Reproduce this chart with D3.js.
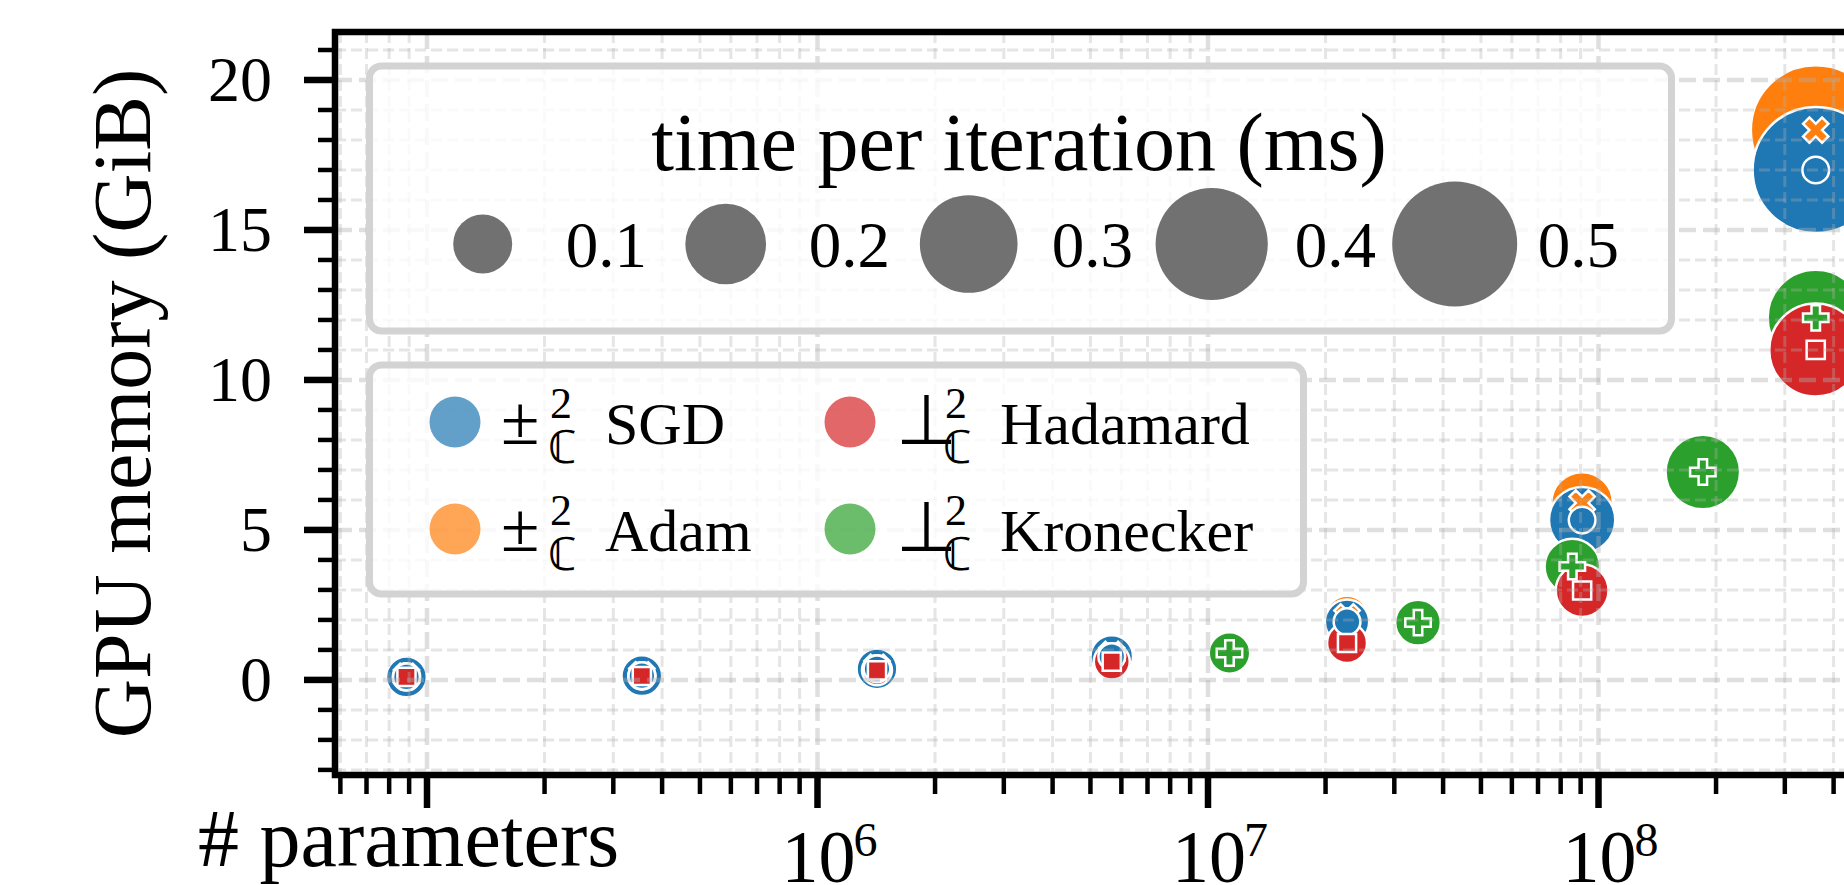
<!DOCTYPE html>
<html>
<head>
<meta charset="utf-8">
<script src="https://cdn.jsdelivr.net/npm/d3@7"></script>
<style>
  body { margin: 0; background: #fff; }
  text { font-family: "Liberation Serif", "Times New Roman", serif; fill: #000; }
</style>
</head>
<body>
<div id="chart"></div>
<script>
//Data: params, GPU memory (GiB), time per iteration (ms)
var sgdParams = [8.86e4, 3.55e5, 1.42e6, 5.67e6, 2.27e7, 9.08e7, 3.6e8];
var sgdMemory = [0.10, 0.14, 0.37, 0.78, 1.94, 5.33, 17.0];
var sgdTime = [0.04, 0.04, 0.04, 0.045, 0.05, 0.13, 0.51];

var adamParams = [8.86e4, 3.55e5, 1.42e6, 5.67e6, 2.27e7, 9.08e7, 3.6e8];
var adamMemory = [0.12, 0.17, 0.42, 0.85, 2.1, 5.9, 18.33];
var adamTime = [0.035, 0.035, 0.035, 0.04, 0.045, 0.11, 0.54];

var hadamardParams = [8.86e4, 3.55e5, 1.42e6, 5.67e6, 2.27e7, 9.08e7, 3.6e8];
var hadamardMemory = [0.10, 0.13, 0.32, 0.61, 1.23, 2.98, 11.0];
var hadamardTime = [0.01, 0.01, 0.015, 0.028, 0.038, 0.077, 0.27];

var kroneckerParams = [1.135e7, 3.45e7, 8.57e7, 1.85e8, 3.6e8];
var kroneckerMemory = [0.9, 1.91, 3.78, 6.93, 12.07];
var kroneckerTime = [0.042, 0.054, 0.087, 0.168, 0.29];

var xTickValues = [1e6, 1e7, 1e8];
var xTickExps = ["6", "7", "8"];
var yTickValues = [0, 5, 10, 15, 20];
var sizeLegendValues = [0.1, 0.2, 0.3, 0.4, 0.5];

var W = 1844, H = 885;
var left = 335, top_ = 32, bottom = 775, right = 1844;

var series = [
	{key: "adam", sym: "±", name: "Adam", color: "#ff7f0e", marker: "x", params: adamParams, mem: adamMemory, time: adamTime},
	{key: "sgd", sym: "±", name: "SGD", color: "#1f77b4", marker: "o", params: sgdParams, mem: sgdMemory, time: sgdTime},
	{key: "kronecker", sym: "⊥", name: "Kronecker", color: "#2ca02c", marker: "p", params: kroneckerParams, mem: kroneckerMemory, time: kroneckerTime},
	{key: "hadamard", sym: "⊥", name: "Hadamard", color: "#d62728", marker: "s", params: hadamardParams, mem: hadamardMemory, time: hadamardTime}
];
var byKey = {};
series.forEach(function (s) { byKey[s.key] = s; });

var x = d3.scaleLog().domain([1e5, 1e8]).range([427, 1598.5]);
var y = d3.scaleLinear().domain([-3.17, 21.6]).range([bottom, top_]);
//squared bubble diameter grows linearly with time
var diam2 = d3.scaleLinear().domain([0.1, 0.5]).range([3481, 15625]);
function radius(t) { return Math.sqrt(diam2(t)) / 2; }

var svg = d3.select("#chart").append("svg")
	.attr("width", W)
	.attr("height", H);

svg.append("clipPath").attr("id", "plotclip")
	.append("rect").attr("x", left).attr("y", top_).attr("width", right - left).attr("height", bottom - top_);

var plot = svg.append("g").attr("clip-path", "url(#plotclip)");

//Bubbles
series.forEach(function (s) {
	plot.selectAll("circle." + s.key)
		.data(s.params)
		.enter()
		.append("circle")
		.attr("class", s.key)
		.attr("cx", function (d) { return x(d); })
		.attr("cy", function (d, i) { return y(s.mem[i]); })
		.attr("r", function (d, i) { return radius(s.time[i]); })
		.attr("fill", s.color)
		.attr("stroke", "#fff")
		.attr("stroke-width", 2.5);
});

//Markers
var symbolFor = {
	o: d3.symbol().type(d3.symbolCircle).size(560),
	s: d3.symbol().type(d3.symbolSquare).size(330),
	p: d3.symbol().type(d3.symbolCross).size(360),
	x: d3.symbol().type(d3.symbolCross).size(400)
};
series.forEach(function (s) {
	plot.selectAll("path.m" + s.key)
		.data(s.params)
		.enter()
		.append("path")
		.attr("class", "m" + s.key)
		.attr("d", symbolFor[s.marker]())
		.attr("transform", function (d, i) {
			return "translate(" + x(d) + "," + y(s.mem[i]) + ")" + (s.marker == "x" ? " rotate(45)" : "");
		})
		.attr("fill", s.color)
		.attr("stroke", "#fff")
		.attr("stroke-width", 2.5);
});

//Grid (drawn over the scatter, like matplotlib)
var xAll = x.copy().domain([x.invert(left - 5), x.invert(right + 5)]);
var xMinor = xAll.ticks().filter(function (v) { return Math.abs(Math.log10(v) - Math.round(Math.log10(v))) > 1e-6; });
var xMajor = [1e5, 1e6, 1e7, 1e8];
var yMinor = d3.range(-3, 22).filter(function (v) { return v % 5 != 0; });

var grid = plot.append("g").attr("stroke", "#b0b0b0").attr("fill", "none");
grid.selectAll("line.vmin").data(xMinor).enter().append("line")
	.attr("x1", function (d) { return x(d); }).attr("x2", function (d) { return x(d); })
	.attr("y1", top_).attr("y2", bottom)
	.attr("stroke-width", 3).attr("stroke-dasharray", "11,5").attr("opacity", 0.33);
grid.selectAll("line.hmin").data(yMinor).enter().append("line")
	.attr("y1", function (d) { return y(d); }).attr("y2", function (d) { return y(d); })
	.attr("x1", left).attr("x2", right)
	.attr("stroke-width", 3).attr("stroke-dasharray", "11,5").attr("opacity", 0.33);
grid.selectAll("line.vmaj").data(xMajor).enter().append("line")
	.attr("x1", function (d) { return x(d); }).attr("x2", function (d) { return x(d); })
	.attr("y1", top_).attr("y2", bottom)
	.attr("stroke-width", 4.5).attr("stroke-dasharray", "17,7").attr("opacity", 0.4);
grid.selectAll("line.hmaj").data(yTickValues).enter().append("line")
	.attr("y1", function (d) { return y(d); }).attr("y2", function (d) { return y(d); })
	.attr("x1", left).attr("x2", right)
	.attr("stroke-width", 4.5).attr("stroke-dasharray", "17,7").attr("opacity", 0.4);

//Ticks
var ticks = svg.append("g").attr("stroke", "#000");
ticks.selectAll("line.ymin").data(yMinor).enter().append("line")
	.attr("x1", left - 17).attr("x2", left)
	.attr("y1", function (d) { return y(d); }).attr("y2", function (d) { return y(d); })
	.attr("stroke-width", 4.5);
ticks.selectAll("line.ymaj").data(yTickValues).enter().append("line")
	.attr("x1", left - 31).attr("x2", left)
	.attr("y1", function (d) { return y(d); }).attr("y2", function (d) { return y(d); })
	.attr("stroke-width", 6.5);
ticks.selectAll("line.xmin").data(xMinor.filter(function (d) { return x(d) > left + 2; })).enter().append("line")
	.attr("y1", bottom).attr("y2", bottom + 19)
	.attr("x1", function (d) { return x(d); }).attr("x2", function (d) { return x(d); })
	.attr("stroke-width", 4.5);
ticks.selectAll("line.xmaj").data(xMajor).enter().append("line")
	.attr("y1", bottom).attr("y2", bottom + 33)
	.attr("x1", function (d) { return x(d); }).attr("x2", function (d) { return x(d); })
	.attr("stroke-width", 6.5);

//Spines
svg.append("path")
	.attr("d", "M" + right + "," + top_ + "H" + left + "V" + bottom + "H" + right)
	.attr("fill", "none")
	.attr("stroke", "#000")
	.attr("stroke-width", 6.5);

//Tick labels
svg.selectAll("text.ylab").data(yTickValues).enter().append("text")
	.attr("class", "ylab")
	.attr("x", 272)
	.attr("y", function (d) { return y(d) + 21; })
	.attr("text-anchor", "end")
	.attr("font-size", 64)
	.text(function (d) { return d; });

var xl = svg.selectAll("text.xlab").data(xTickValues).enter().append("text")
	.attr("class", "xlab")
	.attr("x", function (d) { return x(d) - 36; })
	.attr("y", 882)
	.attr("font-size", 74);
xl.append("tspan").text("10");
xl.append("tspan")
	.attr("font-size", 48)
	.attr("dx", -2)
	.attr("dy", -26)
	.text(function (d, i) { return xTickExps[i]; });

//Axis labels
svg.append("text")
	.attr("x", 198).attr("y", 866)
	.attr("font-size", 82)
	.text("# parameters");
svg.append("text")
	.attr("transform", "translate(150," + ((top_ + bottom) / 2) + ") rotate(-90)")
	.attr("text-anchor", "middle")
	.attr("font-size", 82)
	.text("GPU memory (GiB)");

//Size legend
var leg1 = svg.append("g");
leg1.append("rect")
	.attr("x", 369.5).attr("y", 66).attr("width", 1302).attr("height", 265)
	.attr("rx", 12)
	.attr("fill", "#fff").attr("fill-opacity", 0.8)
	.attr("stroke", "#d3d3d3").attr("stroke-width", 7);
leg1.append("text")
	.attr("x", 1019).attr("y", 170)
	.attr("text-anchor", "middle")
	.attr("font-size", 82)
	.text("time per iteration (ms)");
var sizeItems = leg1.selectAll("g.sz").data(sizeLegendValues).enter().append("g")
	.attr("transform", function (d, i) { return "translate(" + (482.7 + 243 * i) + ",244)"; });
sizeItems.append("circle")
	.attr("r", function (d) { return radius(d); })
	.attr("fill", "#717171");
sizeItems.append("text")
	.attr("x", 83).attr("y", 23)
	.attr("font-size", 65)
	.text(function (d) { return d.toFixed(1); });

//Series legend
var leg2 = svg.append("g");
leg2.append("rect")
	.attr("x", 369.5).attr("y", 365).attr("width", 934).attr("height", 229)
	.attr("rx", 12)
	.attr("fill", "#fff").attr("fill-opacity", 0.8)
	.attr("stroke", "#d3d3d3").attr("stroke-width", 7);
var legendOrder = ["sgd", "adam", "hadamard", "kronecker"];
var items = leg2.selectAll("g.it").data(legendOrder).enter().append("g")
	.attr("transform", function (d, i) {
		var col = Math.floor(i / 2), row = i % 2;
		return "translate(" + (455 + col * 395) + "," + (422 + row * 107) + ")";
	});
items.append("circle")
	.attr("r", 25.5)
	.attr("fill", function (d) { return byKey[d].color; })
	.attr("fill-opacity", 0.7);
items.append("text")
	.attr("x", 46).attr("y", 22)
	.attr("font-size", 70)
	.text(function (d) { return byKey[d].sym; });
items.append("text")
	.attr("x", 95).attr("y", -4)
	.attr("font-size", 44)
	.text("2");
items.append("text")
	.attr("x", 93).attr("y", 41)
	.attr("font-size", 46)
	.attr("font-family", "DejaVu Serif")
	.text("ℂ");
items.append("text")
	.attr("x", 150).attr("y", 22)
	.attr("font-size", 60)
	.text(function (d) { return byKey[d].name; });
</script>
</body>
</html>
